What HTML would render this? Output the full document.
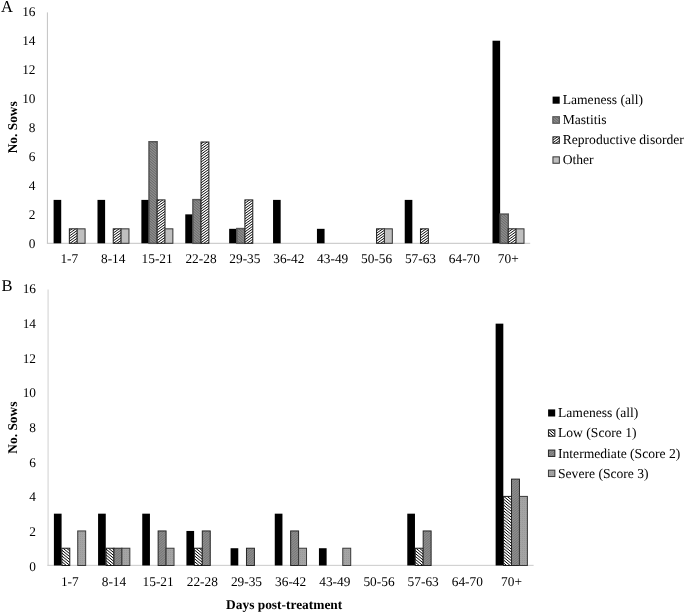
<!DOCTYPE html>
<html><head><meta charset="utf-8"><title>Figure</title>
<style>
html,body{margin:0;padding:0;background:#fff;}
body{width:685px;height:614px;overflow:hidden;}
svg{display:block;}
text{text-rendering:geometricPrecision;font-family:"Liberation Serif","Times New Roman",serif;fill:#000;}
.t{font-size:13.35px;}
.l{font-size:13.6px;}
.b{font-size:13.4px;font-weight:bold;}
.p{font-size:16.5px;}
</style></head><body>
<svg width="685" height="614" viewBox="0 0 685 614">
<defs>
<pattern id="pSev" patternUnits="userSpaceOnUse" width="2" height="2">
<rect width="2" height="2" fill="#a4a4a4"/><rect width="1" height="1" fill="#9a9a9a"/>
</pattern>
</defs>

<text class="p" x="1" y="12.4">A</text>
<line x1="47.4" y1="12.4" x2="47.4" y2="243.3" stroke="#c2c2c2" stroke-width="1"/>
<line x1="46.9" y1="243.3" x2="530.2" y2="243.3" stroke="#c2c2c2" stroke-width="1"/>
<text class="t" x="35.5" y="247.98" text-anchor="end">0</text>
<text class="t" x="35.5" y="219.01" text-anchor="end">2</text>
<text class="t" x="35.5" y="190.05" text-anchor="end">4</text>
<text class="t" x="35.5" y="161.09" text-anchor="end">6</text>
<text class="t" x="35.5" y="132.13" text-anchor="end">8</text>
<text class="t" x="35.5" y="103.17" text-anchor="end">10</text>
<text class="t" x="35.5" y="74.20" text-anchor="end">12</text>
<text class="t" x="35.5" y="45.24" text-anchor="end">14</text>
<text class="t" x="35.5" y="16.28" text-anchor="end">16</text>
<rect x="53.60" y="199.89" width="7.62" height="43.41" fill="#000"/>
<clipPath id="c1"><rect x="69.35" y="228.83" width="7.87" height="14.47"/></clipPath>
<rect x="69.35" y="228.83" width="7.87" height="14.47" fill="#fff"/>
<path clip-path="url(#c1)" d="M68.35 228.99L78.22 221.88M68.35 231.59L78.22 224.48M68.35 234.19L78.22 227.08M68.35 236.79L78.22 229.68M68.35 239.39L78.22 232.28M68.35 241.99L78.22 234.88M68.35 244.59L78.22 237.48M68.35 247.19L78.22 240.08" stroke="#000" stroke-width="0.95" fill="none"/>
<rect x="69.35" y="228.83" width="7.87" height="14.47" fill="none" stroke="#1a1a1a" stroke-width="1"/>
<rect x="77.22" y="228.83" width="7.87" height="14.47" fill="#bfbfbf" stroke="#333" stroke-width="1"/>
<text class="t" x="69.35" y="263.3" text-anchor="middle">1-7</text>
<rect x="97.49" y="199.89" width="7.62" height="43.41" fill="#000"/>
<clipPath id="c2"><rect x="113.24" y="228.83" width="7.87" height="14.47"/></clipPath>
<rect x="113.24" y="228.83" width="7.87" height="14.47" fill="#fff"/>
<path clip-path="url(#c2)" d="M112.24 228.59L122.11 221.48M112.24 231.19L122.11 224.08M112.24 233.79L122.11 226.68M112.24 236.39L122.11 229.28M112.24 238.99L122.11 231.88M112.24 241.59L122.11 234.48M112.24 244.19L122.11 237.08M112.24 246.79L122.11 239.68M112.24 249.39L122.11 242.28" stroke="#000" stroke-width="0.95" fill="none"/>
<rect x="113.24" y="228.83" width="7.87" height="14.47" fill="none" stroke="#1a1a1a" stroke-width="1"/>
<rect x="121.11" y="228.83" width="7.87" height="14.47" fill="#bfbfbf" stroke="#333" stroke-width="1"/>
<text class="t" x="113.24" y="263.3" text-anchor="middle">8-14</text>
<rect x="141.38" y="199.89" width="7.62" height="43.41" fill="#000"/>
<clipPath id="c3"><rect x="149.00" y="141.76" width="8.12" height="101.54"/></clipPath>
<rect x="149.00" y="141.76" width="8.12" height="101.54" fill="#8c8c8c"/>
<path clip-path="url(#c3)" d="M148.00 133.60L158.13 142.21M148.00 136.20L158.13 144.81M148.00 138.80L158.13 147.41M148.00 141.40L158.13 150.01M148.00 144.00L158.13 152.61M148.00 146.60L158.13 155.21M148.00 149.20L158.13 157.81M148.00 151.80L158.13 160.41M148.00 154.40L158.13 163.01M148.00 157.00L158.13 165.61M148.00 159.60L158.13 168.21M148.00 162.20L158.13 170.81M148.00 164.80L158.13 173.41M148.00 167.40L158.13 176.01M148.00 170.00L158.13 178.61M148.00 172.60L158.13 181.21M148.00 175.20L158.13 183.81M148.00 177.80L158.13 186.41M148.00 180.40L158.13 189.01M148.00 183.00L158.13 191.61M148.00 185.60L158.13 194.21M148.00 188.20L158.13 196.81M148.00 190.80L158.13 199.41M148.00 193.40L158.13 202.01M148.00 196.00L158.13 204.61M148.00 198.60L158.13 207.21M148.00 201.20L158.13 209.81M148.00 203.80L158.13 212.41M148.00 206.40L158.13 215.01M148.00 209.00L158.13 217.61M148.00 211.60L158.13 220.21M148.00 214.20L158.13 222.81M148.00 216.80L158.13 225.41M148.00 219.40L158.13 228.01M148.00 222.00L158.13 230.61M148.00 224.60L158.13 233.21M148.00 227.20L158.13 235.81M148.00 229.80L158.13 238.41M148.00 232.40L158.13 241.01M148.00 235.00L158.13 243.61M148.00 237.60L158.13 246.21M148.00 240.20L158.13 248.81" stroke="#626262" stroke-width="0.85" fill="none"/>
<rect x="149.00" y="141.76" width="8.12" height="101.54" fill="none" stroke="#565656" stroke-width="1.5"/>
<clipPath id="c4"><rect x="157.13" y="199.89" width="7.87" height="43.41"/></clipPath>
<rect x="157.13" y="199.89" width="7.87" height="43.41" fill="#fff"/>
<path clip-path="url(#c4)" d="M156.13 199.59L166.00 192.48M156.13 202.19L166.00 195.08M156.13 204.79L166.00 197.68M156.13 207.39L166.00 200.28M156.13 209.99L166.00 202.88M156.13 212.59L166.00 205.48M156.13 215.19L166.00 208.08M156.13 217.79L166.00 210.68M156.13 220.39L166.00 213.28M156.13 222.99L166.00 215.88M156.13 225.59L166.00 218.48M156.13 228.19L166.00 221.08M156.13 230.79L166.00 223.68M156.13 233.39L166.00 226.28M156.13 235.99L166.00 228.88M156.13 238.59L166.00 231.48M156.13 241.19L166.00 234.08M156.13 243.79L166.00 236.68M156.13 246.39L166.00 239.28M156.13 248.99L166.00 241.88" stroke="#000" stroke-width="0.95" fill="none"/>
<rect x="157.13" y="199.89" width="7.87" height="43.41" fill="none" stroke="#1a1a1a" stroke-width="1"/>
<rect x="165.00" y="228.83" width="7.87" height="14.47" fill="#bfbfbf" stroke="#333" stroke-width="1"/>
<text class="t" x="157.13" y="263.3" text-anchor="middle">15-21</text>
<rect x="185.27" y="214.36" width="7.62" height="28.94" fill="#000"/>
<clipPath id="c5"><rect x="192.90" y="199.64" width="8.12" height="43.66"/></clipPath>
<rect x="192.90" y="199.64" width="8.12" height="43.66" fill="#8c8c8c"/>
<path clip-path="url(#c5)" d="M191.90 191.71L202.02 200.32M191.90 194.31L202.02 202.92M191.90 196.91L202.02 205.52M191.90 199.51L202.02 208.12M191.90 202.11L202.02 210.72M191.90 204.71L202.02 213.32M191.90 207.31L202.02 215.92M191.90 209.91L202.02 218.52M191.90 212.51L202.02 221.12M191.90 215.11L202.02 223.72M191.90 217.71L202.02 226.32M191.90 220.31L202.02 228.92M191.90 222.91L202.02 231.52M191.90 225.51L202.02 234.12M191.90 228.11L202.02 236.72M191.90 230.71L202.02 239.32M191.90 233.31L202.02 241.92M191.90 235.91L202.02 244.52M191.90 238.51L202.02 247.12M191.90 241.11L202.02 249.72" stroke="#626262" stroke-width="0.85" fill="none"/>
<rect x="192.90" y="199.64" width="8.12" height="43.66" fill="none" stroke="#565656" stroke-width="1.5"/>
<clipPath id="c6"><rect x="201.02" y="142.01" width="7.87" height="101.29"/></clipPath>
<rect x="201.02" y="142.01" width="7.87" height="101.29" fill="#fff"/>
<path clip-path="url(#c6)" d="M200.02 141.99L209.89 134.88M200.02 144.59L209.89 137.48M200.02 147.19L209.89 140.08M200.02 149.79L209.89 142.68M200.02 152.39L209.89 145.28M200.02 154.99L209.89 147.88M200.02 157.59L209.89 150.48M200.02 160.19L209.89 153.08M200.02 162.79L209.89 155.68M200.02 165.39L209.89 158.28M200.02 167.99L209.89 160.88M200.02 170.59L209.89 163.48M200.02 173.19L209.89 166.08M200.02 175.79L209.89 168.68M200.02 178.39L209.89 171.28M200.02 180.99L209.89 173.88M200.02 183.59L209.89 176.48M200.02 186.19L209.89 179.08M200.02 188.79L209.89 181.68M200.02 191.39L209.89 184.28M200.02 193.99L209.89 186.88M200.02 196.59L209.89 189.48M200.02 199.19L209.89 192.08M200.02 201.79L209.89 194.68M200.02 204.39L209.89 197.28M200.02 206.99L209.89 199.88M200.02 209.59L209.89 202.48M200.02 212.19L209.89 205.08M200.02 214.79L209.89 207.68M200.02 217.39L209.89 210.28M200.02 219.99L209.89 212.88M200.02 222.59L209.89 215.48M200.02 225.19L209.89 218.08M200.02 227.79L209.89 220.68M200.02 230.39L209.89 223.28M200.02 232.99L209.89 225.88M200.02 235.59L209.89 228.48M200.02 238.19L209.89 231.08M200.02 240.79L209.89 233.68M200.02 243.39L209.89 236.28M200.02 245.99L209.89 238.88M200.02 248.59L209.89 241.48" stroke="#000" stroke-width="0.95" fill="none"/>
<rect x="201.02" y="142.01" width="7.87" height="101.29" fill="none" stroke="#1a1a1a" stroke-width="1"/>
<text class="t" x="201.02" y="263.3" text-anchor="middle">22-28</text>
<rect x="229.16" y="228.83" width="7.62" height="14.47" fill="#000"/>
<clipPath id="c7"><rect x="236.79" y="228.58" width="8.12" height="14.72"/></clipPath>
<rect x="236.79" y="228.58" width="8.12" height="14.72" fill="#8c8c8c"/>
<path clip-path="url(#c7)" d="M235.79 218.62L245.91 227.22M235.79 221.22L245.91 229.82M235.79 223.82L245.91 232.42M235.79 226.42L245.91 235.02M235.79 229.02L245.91 237.62M235.79 231.62L245.91 240.22M235.79 234.22L245.91 242.82M235.79 236.82L245.91 245.42M235.79 239.42L245.91 248.02M235.79 242.02L245.91 250.62" stroke="#626262" stroke-width="0.85" fill="none"/>
<rect x="236.79" y="228.58" width="8.12" height="14.72" fill="none" stroke="#565656" stroke-width="1.5"/>
<clipPath id="c8"><rect x="244.91" y="199.89" width="7.87" height="43.41"/></clipPath>
<rect x="244.91" y="199.89" width="7.87" height="43.41" fill="#fff"/>
<path clip-path="url(#c8)" d="M243.91 198.79L253.78 191.68M243.91 201.39L253.78 194.28M243.91 203.99L253.78 196.88M243.91 206.59L253.78 199.48M243.91 209.19L253.78 202.08M243.91 211.79L253.78 204.68M243.91 214.39L253.78 207.28M243.91 216.99L253.78 209.88M243.91 219.59L253.78 212.48M243.91 222.19L253.78 215.08M243.91 224.79L253.78 217.68M243.91 227.39L253.78 220.28M243.91 229.99L253.78 222.88M243.91 232.59L253.78 225.48M243.91 235.19L253.78 228.08M243.91 237.79L253.78 230.68M243.91 240.39L253.78 233.28M243.91 242.99L253.78 235.88M243.91 245.59L253.78 238.48M243.91 248.19L253.78 241.08" stroke="#000" stroke-width="0.95" fill="none"/>
<rect x="244.91" y="199.89" width="7.87" height="43.41" fill="none" stroke="#1a1a1a" stroke-width="1"/>
<text class="t" x="244.91" y="263.3" text-anchor="middle">29-35</text>
<rect x="273.05" y="199.89" width="7.62" height="43.41" fill="#000"/>
<text class="t" x="288.80" y="263.3" text-anchor="middle">36-42</text>
<rect x="316.95" y="228.83" width="7.62" height="14.47" fill="#000"/>
<text class="t" x="332.69" y="263.3" text-anchor="middle">43-49</text>
<clipPath id="c9"><rect x="376.58" y="228.83" width="7.87" height="14.47"/></clipPath>
<rect x="376.58" y="228.83" width="7.87" height="14.47" fill="#fff"/>
<path clip-path="url(#c9)" d="M375.58 228.78L385.45 221.67M375.58 231.38L385.45 224.27M375.58 233.98L385.45 226.87M375.58 236.58L385.45 229.47M375.58 239.18L385.45 232.07M375.58 241.78L385.45 234.67M375.58 244.38L385.45 237.27M375.58 246.98L385.45 239.87M375.58 249.58L385.45 242.47" stroke="#000" stroke-width="0.95" fill="none"/>
<rect x="376.58" y="228.83" width="7.87" height="14.47" fill="none" stroke="#1a1a1a" stroke-width="1"/>
<rect x="384.45" y="228.83" width="7.87" height="14.47" fill="#bfbfbf" stroke="#333" stroke-width="1"/>
<text class="t" x="376.58" y="263.3" text-anchor="middle">50-56</text>
<rect x="404.73" y="199.89" width="7.62" height="43.41" fill="#000"/>
<clipPath id="c10"><rect x="420.47" y="228.83" width="7.87" height="14.47"/></clipPath>
<rect x="420.47" y="228.83" width="7.87" height="14.47" fill="#fff"/>
<path clip-path="url(#c10)" d="M419.47 228.38L429.35 221.27M419.47 230.98L429.35 223.87M419.47 233.58L429.35 226.47M419.47 236.18L429.35 229.07M419.47 238.78L429.35 231.67M419.47 241.38L429.35 234.27M419.47 243.98L429.35 236.87M419.47 246.58L429.35 239.47M419.47 249.18L429.35 242.07" stroke="#000" stroke-width="0.95" fill="none"/>
<rect x="420.47" y="228.83" width="7.87" height="14.47" fill="none" stroke="#1a1a1a" stroke-width="1"/>
<text class="t" x="420.47" y="263.3" text-anchor="middle">57-63</text>
<text class="t" x="464.36" y="263.3" text-anchor="middle">64-70</text>
<rect x="492.51" y="40.72" width="7.62" height="202.58" fill="#000"/>
<clipPath id="c11"><rect x="500.13" y="214.11" width="8.12" height="29.19"/></clipPath>
<rect x="500.13" y="214.11" width="8.12" height="29.19" fill="#8c8c8c"/>
<path clip-path="url(#c11)" d="M499.13 205.86L509.25 214.47M499.13 208.46L509.25 217.07M499.13 211.06L509.25 219.67M499.13 213.66L509.25 222.27M499.13 216.26L509.25 224.87M499.13 218.86L509.25 227.47M499.13 221.46L509.25 230.07M499.13 224.06L509.25 232.67M499.13 226.66L509.25 235.27M499.13 229.26L509.25 237.87M499.13 231.86L509.25 240.47M499.13 234.46L509.25 243.07M499.13 237.06L509.25 245.67M499.13 239.66L509.25 248.27M499.13 242.26L509.25 250.87" stroke="#626262" stroke-width="0.85" fill="none"/>
<rect x="500.13" y="214.11" width="8.12" height="29.19" fill="none" stroke="#565656" stroke-width="1.5"/>
<clipPath id="c12"><rect x="508.25" y="228.83" width="7.87" height="14.47"/></clipPath>
<rect x="508.25" y="228.83" width="7.87" height="14.47" fill="#fff"/>
<path clip-path="url(#c12)" d="M507.25 227.58L517.13 220.47M507.25 230.18L517.13 223.07M507.25 232.78L517.13 225.67M507.25 235.38L517.13 228.27M507.25 237.98L517.13 230.87M507.25 240.58L517.13 233.47M507.25 243.18L517.13 236.07M507.25 245.78L517.13 238.67M507.25 248.38L517.13 241.27" stroke="#000" stroke-width="0.95" fill="none"/>
<rect x="508.25" y="228.83" width="7.87" height="14.47" fill="none" stroke="#1a1a1a" stroke-width="1"/>
<rect x="516.13" y="228.83" width="7.87" height="14.47" fill="#bfbfbf" stroke="#333" stroke-width="1"/>
<text class="t" x="508.25" y="263.3" text-anchor="middle">70+</text>
<text class="b" transform="translate(16.7,127.3) rotate(-90)" text-anchor="middle">No. Sows</text>
<rect x="552.60" y="96.60" width="7.10" height="7.10" fill="#000"/>
<text class="l" x="562.7" y="104">Lameness (all)</text>
<clipPath id="c13"><rect x="552.85" y="116.75" width="6.50" height="6.50"/></clipPath>
<rect x="552.85" y="116.75" width="6.50" height="6.50" fill="#8c8c8c"/>
<path clip-path="url(#c13)" d="M551.85 110.27L560.35 117.50M551.85 112.87L560.35 120.10M551.85 115.47L560.35 122.70M551.85 118.07L560.35 125.30M551.85 120.67L560.35 127.90" stroke="#626262" stroke-width="0.85" fill="none"/>
<rect x="552.85" y="116.75" width="6.50" height="6.50" fill="none" stroke="#565656" stroke-width="1.2"/>
<text class="l" x="562.7" y="123.9">Mastitis</text>
<clipPath id="c14"><rect x="552.95" y="136.85" width="6.40" height="6.40"/></clipPath>
<rect x="552.95" y="136.85" width="6.40" height="6.40" fill="#fff"/>
<path clip-path="url(#c14)" d="M551.95 135.60L560.35 129.55M551.95 138.20L560.35 132.15M551.95 140.80L560.35 134.75M551.95 143.40L560.35 137.35M551.95 146.00L560.35 139.95" stroke="#000" stroke-width="0.95" fill="none"/>
<rect x="552.95" y="136.85" width="6.40" height="6.40" fill="none" stroke="#1a1a1a" stroke-width="1"/>
<text class="l" x="562.7" y="143.9">Reproductive disorder</text>
<rect x="552.95" y="156.85" width="6.40" height="6.40" fill="#bfbfbf" stroke="#333" stroke-width="1"/>
<text class="l" x="562.7" y="163.9">Other</text>
<text class="p" x="1.5" y="290.9">B</text>
<line x1="48.1" y1="289.5" x2="48.1" y2="565.5" stroke="#dedede" stroke-width="1.4"/>
<line x1="47.4" y1="565.35" x2="533.6" y2="565.35" stroke="#c4c4c4" stroke-width="0.9"/>
<text class="t" x="36.0" y="570.80" text-anchor="end">0</text>
<text class="t" x="36.0" y="536.12" text-anchor="end">2</text>
<text class="t" x="36.0" y="501.45" text-anchor="end">4</text>
<text class="t" x="36.0" y="466.78" text-anchor="end">6</text>
<text class="t" x="36.0" y="432.10" text-anchor="end">8</text>
<text class="t" x="36.0" y="397.43" text-anchor="end">10</text>
<text class="t" x="36.0" y="362.75" text-anchor="end">12</text>
<text class="t" x="36.0" y="328.08" text-anchor="end">14</text>
<text class="t" x="36.0" y="293.40" text-anchor="end">16</text>
<rect x="53.90" y="513.67" width="7.69" height="51.82" fill="#000"/>
<clipPath id="c15"><rect x="61.84" y="548.23" width="7.94" height="17.27"/></clipPath>
<rect x="61.84" y="548.23" width="7.94" height="17.27" fill="#fff"/>
<path clip-path="url(#c15)" d="M60.84 540.60L70.79 548.85M60.84 543.50L70.79 551.75M60.84 546.40L70.79 554.65M60.84 549.30L70.79 557.55M60.84 552.20L70.79 560.45M60.84 555.10L70.79 563.35M60.84 558.00L70.79 566.25M60.84 560.90L70.79 569.15M60.84 563.80L70.79 572.05" stroke="#000" stroke-width="1.0" fill="none"/>
<rect x="61.84" y="548.23" width="7.94" height="17.27" fill="none" stroke="#1a1a1a" stroke-width="1"/>
<rect x="77.73" y="530.95" width="7.94" height="34.55" fill="url(#pSev)" stroke="#383838" stroke-width="1"/>
<text class="t" x="69.79" y="586.1" text-anchor="middle">1-7</text>
<rect x="98.07" y="513.67" width="7.69" height="51.82" fill="#000"/>
<clipPath id="c16"><rect x="106.02" y="548.23" width="7.94" height="17.27"/></clipPath>
<rect x="106.02" y="548.23" width="7.94" height="17.27" fill="#fff"/>
<path clip-path="url(#c16)" d="M105.02 539.56L114.96 547.82M105.02 542.46L114.96 550.72M105.02 545.36L114.96 553.62M105.02 548.26L114.96 556.52M105.02 551.16L114.96 559.42M105.02 554.06L114.96 562.32M105.02 556.96L114.96 565.22M105.02 559.86L114.96 568.12M105.02 562.76L114.96 571.02" stroke="#000" stroke-width="1.0" fill="none"/>
<rect x="106.02" y="548.23" width="7.94" height="17.27" fill="none" stroke="#1a1a1a" stroke-width="1"/>
<clipPath id="c17"><rect x="113.96" y="548.23" width="7.94" height="17.27"/></clipPath>
<rect x="113.96" y="548.23" width="7.94" height="17.27" fill="#8e8e8e"/>
<path clip-path="url(#c17)" d="M112.96 547.04L122.90 538.79M112.96 549.44L122.90 541.19M112.96 551.84L122.90 543.59M112.96 554.24L122.90 545.99M112.96 556.64L122.90 548.39M112.96 559.04L122.90 550.79M112.96 561.44L122.90 553.19M112.96 563.84L122.90 555.59M112.96 566.24L122.90 557.99M112.96 568.64L122.90 560.39M112.96 571.04L122.90 562.79" stroke="#707070" stroke-width="0.8" fill="none"/>
<rect x="113.96" y="548.23" width="7.94" height="17.27" fill="none" stroke="#262626" stroke-width="1"/>
<rect x="121.90" y="548.23" width="7.94" height="17.27" fill="url(#pSev)" stroke="#383838" stroke-width="1"/>
<text class="t" x="113.96" y="586.1" text-anchor="middle">8-14</text>
<rect x="142.25" y="513.67" width="7.69" height="51.82" fill="#000"/>
<clipPath id="c18"><rect x="158.13" y="530.95" width="7.94" height="34.55"/></clipPath>
<rect x="158.13" y="530.95" width="7.94" height="34.55" fill="#8e8e8e"/>
<path clip-path="url(#c18)" d="M157.13 529.58L167.07 521.33M157.13 531.98L167.07 523.73M157.13 534.38L167.07 526.13M157.13 536.78L167.07 528.53M157.13 539.18L167.07 530.93M157.13 541.58L167.07 533.33M157.13 543.98L167.07 535.73M157.13 546.38L167.07 538.13M157.13 548.78L167.07 540.53M157.13 551.18L167.07 542.93M157.13 553.58L167.07 545.33M157.13 555.98L167.07 547.73M157.13 558.38L167.07 550.13M157.13 560.78L167.07 552.53M157.13 563.18L167.07 554.93M157.13 565.58L167.07 557.33M157.13 567.98L167.07 559.73M157.13 570.38L167.07 562.13M157.13 572.78L167.07 564.53" stroke="#707070" stroke-width="0.8" fill="none"/>
<rect x="158.13" y="530.95" width="7.94" height="34.55" fill="none" stroke="#262626" stroke-width="1"/>
<rect x="166.08" y="548.23" width="7.94" height="17.27" fill="url(#pSev)" stroke="#383838" stroke-width="1"/>
<text class="t" x="158.13" y="586.1" text-anchor="middle">15-21</text>
<rect x="186.42" y="530.95" width="7.69" height="34.55" fill="#000"/>
<clipPath id="c19"><rect x="194.36" y="548.23" width="7.94" height="17.27"/></clipPath>
<rect x="194.36" y="548.23" width="7.94" height="17.27" fill="#fff"/>
<path clip-path="url(#c19)" d="M193.36 540.39L203.30 548.64M193.36 543.29L203.30 551.54M193.36 546.19L203.30 554.44M193.36 549.09L203.30 557.34M193.36 551.99L203.30 560.24M193.36 554.89L203.30 563.14M193.36 557.79L203.30 566.04M193.36 560.69L203.30 568.94M193.36 563.59L203.30 571.84" stroke="#000" stroke-width="1.0" fill="none"/>
<rect x="194.36" y="548.23" width="7.94" height="17.27" fill="none" stroke="#1a1a1a" stroke-width="1"/>
<clipPath id="c20"><rect x="202.30" y="530.95" width="7.94" height="34.55"/></clipPath>
<rect x="202.30" y="530.95" width="7.94" height="34.55" fill="#8e8e8e"/>
<path clip-path="url(#c20)" d="M201.30 531.32L211.25 523.06M201.30 533.72L211.25 525.46M201.30 536.12L211.25 527.86M201.30 538.52L211.25 530.26M201.30 540.92L211.25 532.66M201.30 543.32L211.25 535.06M201.30 545.72L211.25 537.46M201.30 548.12L211.25 539.86M201.30 550.52L211.25 542.26M201.30 552.92L211.25 544.66M201.30 555.32L211.25 547.06M201.30 557.72L211.25 549.46M201.30 560.12L211.25 551.86M201.30 562.52L211.25 554.26M201.30 564.92L211.25 556.66M201.30 567.32L211.25 559.06M201.30 569.72L211.25 561.46M201.30 572.12L211.25 563.86" stroke="#707070" stroke-width="0.8" fill="none"/>
<rect x="202.30" y="530.95" width="7.94" height="34.55" fill="none" stroke="#262626" stroke-width="1"/>
<text class="t" x="202.30" y="586.1" text-anchor="middle">22-28</text>
<rect x="230.59" y="548.23" width="7.69" height="17.27" fill="#000"/>
<clipPath id="c21"><rect x="246.48" y="548.23" width="7.94" height="17.27"/></clipPath>
<rect x="246.48" y="548.23" width="7.94" height="17.27" fill="#8e8e8e"/>
<path clip-path="url(#c21)" d="M245.48 547.45L255.42 539.20M245.48 549.85L255.42 541.60M245.48 552.25L255.42 544.00M245.48 554.65L255.42 546.40M245.48 557.05L255.42 548.80M245.48 559.45L255.42 551.20M245.48 561.85L255.42 553.60M245.48 564.25L255.42 556.00M245.48 566.65L255.42 558.40M245.48 569.05L255.42 560.80M245.48 571.45L255.42 563.20" stroke="#707070" stroke-width="0.8" fill="none"/>
<rect x="246.48" y="548.23" width="7.94" height="17.27" fill="none" stroke="#262626" stroke-width="1"/>
<text class="t" x="246.48" y="586.1" text-anchor="middle">29-35</text>
<rect x="274.76" y="513.67" width="7.69" height="51.82" fill="#000"/>
<clipPath id="c22"><rect x="290.65" y="530.95" width="7.94" height="34.55"/></clipPath>
<rect x="290.65" y="530.95" width="7.94" height="34.55" fill="#8e8e8e"/>
<path clip-path="url(#c22)" d="M289.65 529.99L299.59 521.74M289.65 532.39L299.59 524.14M289.65 534.79L299.59 526.54M289.65 537.19L299.59 528.94M289.65 539.59L299.59 531.34M289.65 541.99L299.59 533.74M289.65 544.39L299.59 536.14M289.65 546.79L299.59 538.54M289.65 549.19L299.59 540.94M289.65 551.59L299.59 543.34M289.65 553.99L299.59 545.74M289.65 556.39L299.59 548.14M289.65 558.79L299.59 550.54M289.65 561.19L299.59 552.94M289.65 563.59L299.59 555.34M289.65 565.99L299.59 557.74M289.65 568.39L299.59 560.14M289.65 570.79L299.59 562.54" stroke="#707070" stroke-width="0.8" fill="none"/>
<rect x="290.65" y="530.95" width="7.94" height="34.55" fill="none" stroke="#262626" stroke-width="1"/>
<rect x="298.59" y="548.23" width="7.94" height="17.27" fill="url(#pSev)" stroke="#383838" stroke-width="1"/>
<text class="t" x="290.65" y="586.1" text-anchor="middle">36-42</text>
<rect x="318.94" y="548.23" width="7.69" height="17.27" fill="#000"/>
<rect x="342.77" y="548.23" width="7.94" height="17.27" fill="url(#pSev)" stroke="#383838" stroke-width="1"/>
<text class="t" x="334.82" y="586.1" text-anchor="middle">43-49</text>
<text class="t" x="379.00" y="586.1" text-anchor="middle">50-56</text>
<rect x="407.28" y="513.67" width="7.69" height="51.82" fill="#000"/>
<clipPath id="c23"><rect x="415.23" y="548.23" width="7.94" height="17.27"/></clipPath>
<rect x="415.23" y="548.23" width="7.94" height="17.27" fill="#fff"/>
<path clip-path="url(#c23)" d="M414.23 538.11L424.17 546.36M414.23 541.01L424.17 549.26M414.23 543.91L424.17 552.16M414.23 546.81L424.17 555.06M414.23 549.71L424.17 557.96M414.23 552.61L424.17 560.86M414.23 555.51L424.17 563.76M414.23 558.41L424.17 566.66M414.23 561.31L424.17 569.56M414.23 564.21L424.17 572.46" stroke="#000" stroke-width="1.0" fill="none"/>
<rect x="415.23" y="548.23" width="7.94" height="17.27" fill="none" stroke="#1a1a1a" stroke-width="1"/>
<clipPath id="c24"><rect x="423.17" y="530.95" width="7.94" height="34.55"/></clipPath>
<rect x="423.17" y="530.95" width="7.94" height="34.55" fill="#8e8e8e"/>
<path clip-path="url(#c24)" d="M422.17 530.40L432.11 522.15M422.17 532.80L432.11 524.55M422.17 535.20L432.11 526.95M422.17 537.60L432.11 529.35M422.17 540.00L432.11 531.75M422.17 542.40L432.11 534.15M422.17 544.80L432.11 536.55M422.17 547.20L432.11 538.95M422.17 549.60L432.11 541.35M422.17 552.00L432.11 543.75M422.17 554.40L432.11 546.15M422.17 556.80L432.11 548.55M422.17 559.20L432.11 550.95M422.17 561.60L432.11 553.35M422.17 564.00L432.11 555.75M422.17 566.40L432.11 558.15M422.17 568.80L432.11 560.55M422.17 571.20L432.11 562.95" stroke="#707070" stroke-width="0.8" fill="none"/>
<rect x="423.17" y="530.95" width="7.94" height="34.55" fill="none" stroke="#262626" stroke-width="1"/>
<text class="t" x="423.17" y="586.1" text-anchor="middle">57-63</text>
<text class="t" x="467.34" y="586.1" text-anchor="middle">64-70</text>
<rect x="495.63" y="323.65" width="7.69" height="241.85" fill="#000"/>
<clipPath id="c25"><rect x="503.57" y="496.40" width="7.94" height="69.10"/></clipPath>
<rect x="503.57" y="496.40" width="7.94" height="69.10" fill="#fff"/>
<path clip-path="url(#c25)" d="M502.57 486.73L512.51 494.99M502.57 489.63L512.51 497.89M502.57 492.53L512.51 500.79M502.57 495.43L512.51 503.69M502.57 498.33L512.51 506.59M502.57 501.23L512.51 509.49M502.57 504.13L512.51 512.39M502.57 507.03L512.51 515.29M502.57 509.93L512.51 518.19M502.57 512.83L512.51 521.09M502.57 515.73L512.51 523.99M502.57 518.63L512.51 526.89M502.57 521.53L512.51 529.79M502.57 524.43L512.51 532.69M502.57 527.33L512.51 535.59M502.57 530.23L512.51 538.49M502.57 533.13L512.51 541.39M502.57 536.03L512.51 544.29M502.57 538.93L512.51 547.19M502.57 541.83L512.51 550.09M502.57 544.73L512.51 552.99M502.57 547.63L512.51 555.89M502.57 550.53L512.51 558.79M502.57 553.43L512.51 561.69M502.57 556.33L512.51 564.59M502.57 559.23L512.51 567.49M502.57 562.13L512.51 570.39" stroke="#000" stroke-width="1.0" fill="none"/>
<rect x="503.57" y="496.40" width="7.94" height="69.10" fill="none" stroke="#1a1a1a" stroke-width="1"/>
<clipPath id="c26"><rect x="511.51" y="479.12" width="7.94" height="86.38"/></clipPath>
<rect x="511.51" y="479.12" width="7.94" height="86.38" fill="#8e8e8e"/>
<path clip-path="url(#c26)" d="M510.51 478.67L520.46 470.42M510.51 481.07L520.46 472.82M510.51 483.47L520.46 475.22M510.51 485.87L520.46 477.62M510.51 488.27L520.46 480.02M510.51 490.67L520.46 482.42M510.51 493.07L520.46 484.82M510.51 495.47L520.46 487.22M510.51 497.87L520.46 489.62M510.51 500.27L520.46 492.02M510.51 502.67L520.46 494.42M510.51 505.07L520.46 496.82M510.51 507.47L520.46 499.22M510.51 509.87L520.46 501.62M510.51 512.27L520.46 504.02M510.51 514.67L520.46 506.42M510.51 517.07L520.46 508.82M510.51 519.47L520.46 511.22M510.51 521.87L520.46 513.62M510.51 524.27L520.46 516.02M510.51 526.67L520.46 518.42M510.51 529.07L520.46 520.82M510.51 531.47L520.46 523.22M510.51 533.87L520.46 525.62M510.51 536.27L520.46 528.02M510.51 538.67L520.46 530.42M510.51 541.07L520.46 532.82M510.51 543.47L520.46 535.22M510.51 545.87L520.46 537.62M510.51 548.27L520.46 540.02M510.51 550.67L520.46 542.42M510.51 553.07L520.46 544.82M510.51 555.47L520.46 547.22M510.51 557.87L520.46 549.62M510.51 560.27L520.46 552.02M510.51 562.67L520.46 554.42M510.51 565.07L520.46 556.82M510.51 567.47L520.46 559.22M510.51 569.87L520.46 561.62M510.51 572.27L520.46 564.02" stroke="#707070" stroke-width="0.8" fill="none"/>
<rect x="511.51" y="479.12" width="7.94" height="86.38" fill="none" stroke="#262626" stroke-width="1"/>
<rect x="519.46" y="496.40" width="7.94" height="69.10" fill="url(#pSev)" stroke="#383838" stroke-width="1"/>
<text class="t" x="511.51" y="586.1" text-anchor="middle">70+</text>
<text class="b" transform="translate(16.8,427.6) rotate(-90)" text-anchor="middle">No. Sows</text>
<rect x="548.10" y="409.40" width="7.10" height="7.10" fill="#000"/>
<text class="l" x="558.0" y="417.2">Lameness (all)</text>
<clipPath id="c27"><rect x="548.45" y="429.85" width="6.40" height="6.40"/></clipPath>
<rect x="548.45" y="429.85" width="6.40" height="6.40" fill="#fff"/>
<path clip-path="url(#c27)" d="M547.45 422.48L555.85 429.46M547.45 425.38L555.85 432.36M547.45 428.28L555.85 435.26M547.45 431.18L555.85 438.16M547.45 434.08L555.85 441.06" stroke="#000" stroke-width="1.0" fill="none"/>
<rect x="548.45" y="429.85" width="6.40" height="6.40" fill="none" stroke="#1a1a1a" stroke-width="1"/>
<text class="l" x="558.0" y="437.3">Low (Score 1)</text>
<clipPath id="c28"><rect x="548.45" y="450.05" width="6.40" height="6.40"/></clipPath>
<rect x="548.45" y="450.05" width="6.40" height="6.40" fill="#8e8e8e"/>
<path clip-path="url(#c28)" d="M547.45 450.42L555.85 443.44M547.45 452.82L555.85 445.84M547.45 455.22L555.85 448.24M547.45 457.62L555.85 450.64M547.45 460.02L555.85 453.04M547.45 462.42L555.85 455.44" stroke="#707070" stroke-width="0.8" fill="none"/>
<rect x="548.45" y="450.05" width="6.40" height="6.40" fill="none" stroke="#262626" stroke-width="1"/>
<text class="l" x="558.0" y="457.5">Intermediate (Score 2)</text>
<rect x="548.45" y="470.15" width="6.40" height="6.40" fill="url(#pSev)" stroke="#383838" stroke-width="1"/>
<text class="l" x="558.0" y="477.6">Severe (Score 3)</text>
<text class="b" x="284.2" y="609.3" text-anchor="middle">Days post-treatment</text>
</svg></body></html>
